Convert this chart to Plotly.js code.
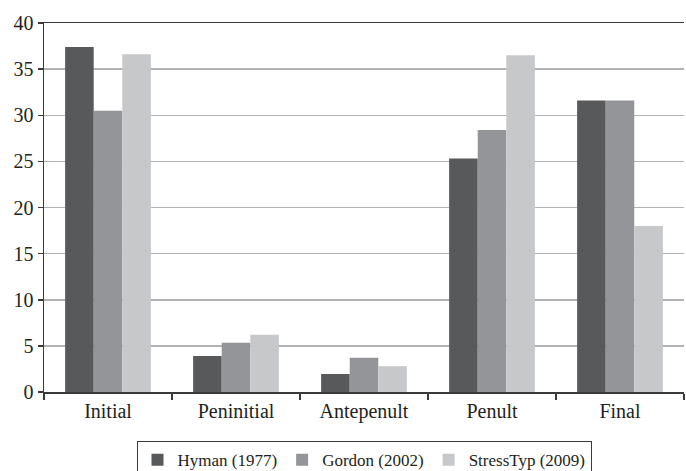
<!DOCTYPE html>
<html>
<head>
<meta charset="utf-8">
<script src="https://cdn.plot.ly/plotly-3.0.1.min.js"></script>
<style>html,body{margin:0;padding:0;background:#fff;}#chart{width:686px;height:471px;}</style>
</head>
<body>
<div id="chart"></div>
<script>
const categories = ["Initial", "Peninitial", "Antepenult", "Penult", "Final"];
const seriesNames = ["Hyman (1977)", "Gordon (2002)", "StressTyp (2009)"];
const hyman = [37.4, 3.9, 1.95, 25.3, 31.6];
const gordon = [30.5, 5.35, 3.7, 28.4, 31.6];
const stresstyp = [36.6, 6.2, 2.8, 36.5, 18.0];
const colors = ["#58595b", "#939598", "#c7c8ca"];
const yTicks = [0, 5, 10, 15, 20, 25, 30, 35, 40];

const seriesValues = [hyman, gordon, stresstyp];
const traces = seriesValues.map((vals, i) => ({
  type: "bar",
  name: seriesNames[i],
  x: categories,
  y: vals,
  marker: {color: colors[i], line: {width: 0}},
  hoverinfo: "none"
}));

const fontFam = "Liberation Serif, DejaVu Serif, serif";
const layout = {
  width: 686, height: 471,
  margin: {l: 44, r: 2, t: 23, b: 79, autoexpand: false},
  paper_bgcolor: "#fff", plot_bgcolor: "#fff",
  barmode: "group",
  bargap: 0.33, bargroupgap: 0,
  font: {family: fontFam, size: 20, color: "#231f20"},
  xaxis: {
    type: "category",
    automargin: false,
    showline: true, linecolor: "#3a3a3a", linewidth: 1.5,
    mirror: true,
    ticks: "outside", tickson: "boundaries", ticklen: 6, tickwidth: 1.5, tickcolor: "#3a3a3a",
    showgrid: false, zeroline: false,
    tickfont: {family: fontFam, size: 20, color: "#231f20"}
  },
  yaxis: {
    automargin: false,
    range: [0, 40],
    tickvals: yTicks,
    ticktext: yTicks.map(String),
    showline: true, linecolor: "#3a3a3a", linewidth: 1.5,
    ticks: "outside", ticklen: 5, tickwidth: 1.5, tickcolor: "#3a3a3a",
    showgrid: true, gridcolor: "#b3b3b3", gridwidth: 1.5,
    zeroline: false,
    tickfont: {family: fontFam, size: 20, color: "#231f20"}
  },
  showlegend: true,
  legend: {
    orientation: "h",
    x: 0.5, xanchor: "center",
    y: -0.133, yanchor: "top",
    bordercolor: "#3a3a3a", borderwidth: 1,
    font: {family: fontFam, size: 17, color: "#231f20"},
    itemwidth: 30,
    tracegroupgap: 0
  }
};

Plotly.newPlot("chart", traces, layout, {displayModeBar: false, staticPlot: true});
</script>
</body>
</html>
